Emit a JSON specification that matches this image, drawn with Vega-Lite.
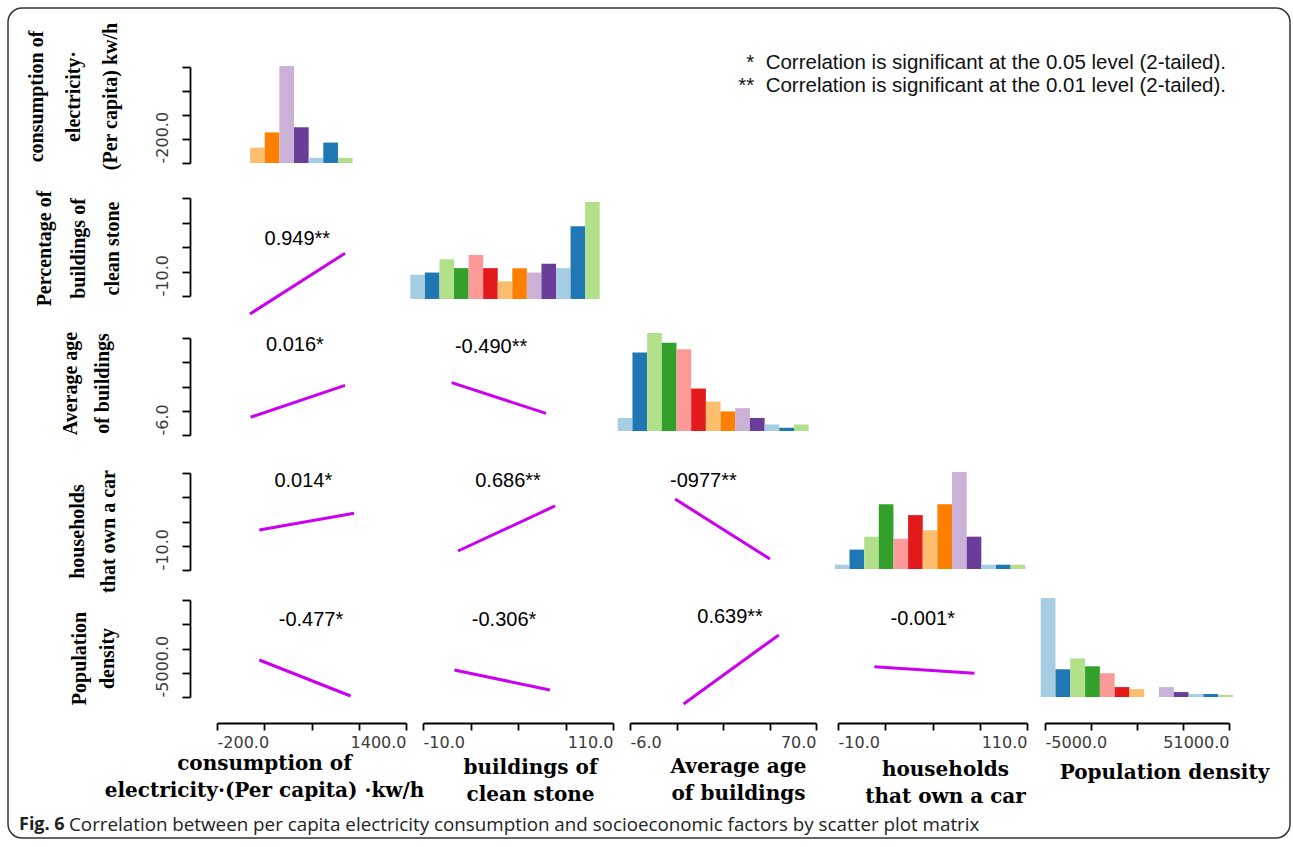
{
  "$schema": "https://vega.github.io/schema/vega-lite/v6.json",
  "width": 1282,
  "height": 830,
  "autosize": "none",
  "padding": {"left": 8, "top": 8, "right": 3, "bottom": 9},
  "view": {"stroke": "#333", "strokeWidth": 1.5, "cornerRadius": 14},
  "datasets": {
    "hist": [
      {"h":"elec","k":7,"a":80,"b":204,"n":3},
      {"h":"elec","k":8,"a":204,"b":328,"n":6},
      {"h":"elec","k":9,"a":328,"b":452,"n":19},
      {"h":"elec","k":10,"a":452,"b":576,"n":7},
      {"h":"elec","k":11,"a":576,"b":700,"n":1},
      {"h":"elec","k":12,"a":700,"b":824,"n":4},
      {"h":"elec","k":13,"a":824,"b":948,"n":1},
      {"h":"stone","k":1,"a":-18,"b":-8.8,"n":11},
      {"h":"stone","k":2,"a":-8.8,"b":0.4,"n":12},
      {"h":"stone","k":3,"a":0.4,"b":9.6,"n":18},
      {"h":"stone","k":4,"a":9.6,"b":18.8,"n":14},
      {"h":"stone","k":5,"a":18.8,"b":28,"n":20},
      {"h":"stone","k":6,"a":28,"b":37.2,"n":14},
      {"h":"stone","k":7,"a":37.2,"b":46.4,"n":8},
      {"h":"stone","k":8,"a":46.4,"b":55.6,"n":14},
      {"h":"stone","k":9,"a":55.6,"b":64.8,"n":12},
      {"h":"stone","k":10,"a":64.8,"b":74,"n":16},
      {"h":"stone","k":11,"a":74,"b":83.2,"n":14},
      {"h":"stone","k":12,"a":83.2,"b":92.4,"n":33},
      {"h":"stone","k":13,"a":92.4,"b":101.6,"n":44},
      {"h":"age","k":1,"a":-11,"b":-5,"n":4},
      {"h":"age","k":2,"a":-5,"b":1,"n":24},
      {"h":"age","k":3,"a":1,"b":7,"n":30},
      {"h":"age","k":4,"a":7,"b":13,"n":27},
      {"h":"age","k":5,"a":13,"b":19,"n":25},
      {"h":"age","k":6,"a":19,"b":25,"n":13},
      {"h":"age","k":7,"a":25,"b":31,"n":9},
      {"h":"age","k":8,"a":31,"b":37,"n":6},
      {"h":"age","k":9,"a":37,"b":43,"n":7},
      {"h":"age","k":10,"a":43,"b":49,"n":4},
      {"h":"age","k":11,"a":49,"b":55,"n":2},
      {"h":"age","k":12,"a":55,"b":61,"n":1},
      {"h":"age","k":13,"a":61,"b":67,"n":2},
      {"h":"car","k":1,"a":-12,"b":-2.7,"n":2},
      {"h":"car","k":2,"a":-2.7,"b":6.6,"n":9},
      {"h":"car","k":3,"a":6.6,"b":15.9,"n":15},
      {"h":"car","k":4,"a":15.9,"b":25.2,"n":30},
      {"h":"car","k":5,"a":25.2,"b":34.5,"n":14},
      {"h":"car","k":6,"a":34.5,"b":43.8,"n":25},
      {"h":"car","k":7,"a":43.8,"b":53.1,"n":18},
      {"h":"car","k":8,"a":53.1,"b":62.4,"n":30},
      {"h":"car","k":9,"a":62.4,"b":71.7,"n":45},
      {"h":"car","k":10,"a":71.7,"b":81,"n":15},
      {"h":"car","k":11,"a":81,"b":90.3,"n":2},
      {"h":"car","k":12,"a":90.3,"b":99.6,"n":2},
      {"h":"car","k":13,"a":99.6,"b":108.9,"n":2},
      {"h":"pop","k":1,"a":-6300,"b":-1800,"n":100},
      {"h":"pop","k":2,"a":-1800,"b":2700,"n":28},
      {"h":"pop","k":3,"a":2700,"b":7200,"n":39},
      {"h":"pop","k":4,"a":7200,"b":11700,"n":31},
      {"h":"pop","k":5,"a":11700,"b":16200,"n":24},
      {"h":"pop","k":6,"a":16200,"b":20700,"n":10},
      {"h":"pop","k":7,"a":20700,"b":25200,"n":8},
      {"h":"pop","k":8,"a":25200,"b":29700,"n":0},
      {"h":"pop","k":9,"a":29700,"b":34200,"n":10},
      {"h":"pop","k":10,"a":34200,"b":38700,"n":5},
      {"h":"pop","k":11,"a":38700,"b":43200,"n":3},
      {"h":"pop","k":12,"a":43200,"b":47700,"n":3},
      {"h":"pop","k":13,"a":47700,"b":52200,"n":2}
    ],
    "seg": [
      {"p":"r2c1","x":79,"y":-32},{"p":"r2c1","x":884,"y":42.3},
      {"p":"r3c1","x":85,"y":7.9},{"p":"r3c1","x":884,"y":32.9},
      {"p":"r3c2","x":8.1,"y":35},{"p":"r3c2","x":67.7,"y":11},
      {"p":"r4c1","x":158,"y":39.5},{"p":"r4c1","x":960,"y":60.1},
      {"p":"r4c2","x":12.1,"y":13.5},{"p":"r4c2","x":73.4,"y":69.2},
      {"p":"r4c3","x":12.4,"y":77.8},{"p":"r4c3","x":51.2,"y":3.6},
      {"p":"r5c1","x":158,"y":16362},{"p":"r5c1","x":931,"y":-4420},
      {"p":"r5c2","x":9.8,"y":10589},{"p":"r5c2","x":70.1,"y":-958},
      {"p":"r5c3","x":15.9,"y":-9039},{"p":"r5c3","x":54.8,"y":30795},
      {"p":"r5c4","x":13.1,"y":12494},{"p":"r5c4","x":76.6,"y":8684}
    ],
    "lab": [
      {"p":"r2c1","x":480,"y":59.4,"t":"0.949**"},
      {"p":"r3c1","x":460,"y":64.5,"t":"0.016*"},
      {"p":"r3c2","x":33,"y":63.2,"t":"-0.490**"},
      {"p":"r4c1","x":531,"y":100.5,"t":"0.014*"},
      {"p":"r4c2","x":43.7,"y":100,"t":"0.686**"},
      {"p":"r4c3","x":24,"y":100.1,"t":"-0977**"},
      {"p":"r5c1","x":596,"y":39454,"t":"-0.477*"},
      {"p":"r5c2","x":41.2,"y":39454,"t":"-0.306*"},
      {"p":"r5c3","x":34.9,"y":41186,"t":"0.639**"},
      {"p":"r5c4","x":43.8,"y":40031,"t":"-0.001*"}
    ],
    "notes": [
      {"o": "1", "t": "*\u00a0\u00a0Correlation is significant at the 0.05 level (2-tailed)."},
      {"o": "2", "t": "**\u00a0\u00a0Correlation is significant at the 0.01 level (2-tailed)."}
    ]
  },
  "resolve": {
    "scale": {"x": "independent", "y": "independent"},
    "axis": {"x": "independent", "y": "independent"}
  },
  "layer": [
    {
      "data": {"values": [{}]},
      "encoding": {
        "x": {"datum": 0, "type": "quantitative", "scale": {"domain": [0, 1]}, "axis": null},
        "y": {"datum": 0, "type": "quantitative", "scale": {"domain": [0, 1]}, "axis": null}
      },
      "layer": [
        {"mark": {"type": "text", "text": "Fig. 6", "font": "Open Sans", "fontWeight": "bold", "fontSize": 18, "align": "left", "baseline": "middle", "dx": 11, "dy": -13, "color": "#222"}},
        {"mark": {"type": "text", "text": "Correlation between per capita electricity consumption and socioeconomic factors by scatter plot matrix", "font": "Open Sans", "fontSize": 18.8, "align": "left", "baseline": "middle", "dx": 61, "dy": -13, "color": "#222"}}
      ]
    },
    {
      "data": {"name": "notes"},
      "mark": {"type": "text", "align": "right", "baseline": "middle", "font": "Liberation Sans", "fontSize": 20.5, "color": "#111"},
      "encoding": {
        "text": {"field": "t"},
        "x": {"datum": 1, "type": "quantitative", "scale": {"domain": [0, 1], "range": [0, 1218]}, "axis": null},
        "y": {"field": "o", "type": "ordinal", "scale": {"type": "point", "range": [55, 78], "padding": 0}, "axis": null}
      }
    },
    {
      "data": {"values": [{}]},
      "mark": {"type": "point", "opacity": 0},
      "encoding": {
        "y": {"datum": -200, "type": "quantitative", "scale": {"domain": [-200, 1400], "range": [155, 59], "nice": false, "zero": false},
          "axis": {"orient": "left", "offset": -182, "values": [-200, 200, 600, 1000, 1400], "labelExpr": "datum.value == -200 ? '-200.0' : ''", "title": ["consumption of", "electricity·", "(Per capita) kw/h"], "titleX": -144, "titleY": 88, "titleLineHeight": 37}}
      }
    },
    {
      "data": {"name": "hist"}, "transform": [{"filter": "datum.h == 'elec'"}], "mark": "bar",
      "encoding": {
        "x": {"field": "a", "type": "quantitative", "scale": {"domain": [-200, 1400], "range": [209, 398], "nice": false, "zero": false}, "axis": null},
        "x2": {"field": "b"},
        "y": {"field": "n", "type": "quantitative", "scale": {"domain": [0, 19], "range": [155, 58], "nice": false}, "axis": null},
        "y2": {"datum": 0},
        "color": {"field": "k", "type": "ordinal", "legend": null, "scale": {"domain": [1,2,3,4,5,6,7,8,9,10,11,12,13], "range": ["#a6cee3","#1f78b4","#b2df8a","#33a02c","#fb9a99","#e31a1c","#fdbf6f","#ff7f00","#cab2d6","#6a3d9a","#a6cee3","#1f78b4","#b2df8a"]}}
      }
    },
    {
      "data": {"name": "hist"}, "transform": [{"filter": "datum.h == 'stone'"}], "mark": "bar",
      "encoding": {
        "x": {"field": "a", "type": "quantitative", "scale": {"domain": [-10, 110], "range": [415, 605], "nice": false, "zero": false}, "axis": null},
        "x2": {"field": "b"},
        "y": {"field": "n", "type": "quantitative", "scale": {"domain": [0, 44], "range": [291, 194], "nice": false}, "axis": null},
        "y2": {"datum": 0},
        "color": {"field": "k", "type": "ordinal", "legend": null}
      }
    },
    {
      "data": {"name": "hist"}, "transform": [{"filter": "datum.h == 'age'"}], "mark": "bar",
      "encoding": {
        "x": {"field": "a", "type": "quantitative", "scale": {"domain": [-6, 70], "range": [622, 808], "nice": false, "zero": false}, "axis": null},
        "x2": {"field": "b"},
        "y": {"field": "n", "type": "quantitative", "scale": {"domain": [0, 30], "range": [423, 325], "nice": false}, "axis": null},
        "y2": {"datum": 0},
        "color": {"field": "k", "type": "ordinal", "legend": null}
      }
    },
    {
      "data": {"name": "hist"}, "transform": [{"filter": "datum.h == 'car'"}], "mark": "bar",
      "encoding": {
        "x": {"field": "a", "type": "quantitative", "scale": {"domain": [-10, 110], "range": [830, 1019], "nice": false, "zero": false}, "axis": null},
        "x2": {"field": "b"},
        "y": {"field": "n", "type": "quantitative", "scale": {"domain": [0, 45], "range": [561, 464], "nice": false}, "axis": null},
        "y2": {"datum": 0},
        "color": {"field": "k", "type": "ordinal", "legend": null}
      }
    },
    {
      "data": {"name": "hist"}, "transform": [{"filter": "datum.h == 'pop'"}], "mark": "bar",
      "encoding": {
        "x": {"field": "a", "type": "quantitative", "scale": {"domain": [-5000, 51000], "range": [1037, 1221], "nice": false, "zero": false},
          "axis": {"orient": "bottom", "offset": -115, "values": [-5000, 9000, 23000, 37000, 51000], "labelExpr": "datum.value == -5000 ? '-5000.0' : datum.value == 51000 ? '51000.0' : ''", "title": "Population density", "titleX": 1156, "titleY": 55}},
        "x2": {"field": "b"},
        "y": {"field": "n", "type": "quantitative", "scale": {"domain": [0, 100], "range": [689, 590], "nice": false}, "axis": null},
        "y2": {"datum": 0},
        "color": {"field": "k", "type": "ordinal", "legend": null}
      }
    },
    {
      "encoding": {
        "x": {"field": "x", "type": "quantitative", "scale": {"domain": [-200, 1400], "range": [209, 398], "nice": false, "zero": false}, "axis": null},
        "y": {"field": "y", "type": "quantitative", "scale": {"domain": [-10, 110], "range": [288, 190], "nice": false, "zero": false},
          "axis": {"orient": "left", "offset": -182, "values": [-10, 20, 50, 80, 110], "labelExpr": "datum.value == -10 ? '-10.0' : ''", "title": ["Percentage of", "buildings of", "clean stone"], "titleX": -136, "titleY": 240, "titleLineHeight": 34}}
      },
      "layer": [
        {"data": {"name": "seg"}, "transform": [{"filter": "datum.p == 'r2c1'"}], "mark": {"type": "line", "color": "#cc00f0", "strokeWidth": 3}},
        {"data": {"name": "lab"}, "transform": [{"filter": "datum.p == 'r2c1'"}], "mark": {"type": "text", "font": "Liberation Sans", "fontSize": 20, "color": "#000"}, "encoding": {"text": {"field": "t"}}}
      ]
    },
    {
      "encoding": {
        "x": {"field": "x", "type": "quantitative", "scale": {"domain": [-200, 1400], "range": [209, 398], "nice": false, "zero": false}, "axis": null},
        "y": {"field": "y", "type": "quantitative", "scale": {"domain": [-6, 70], "range": [427, 330], "nice": false, "zero": false},
          "axis": {"orient": "left", "offset": -182, "values": [-6, 13, 32, 51, 70], "labelExpr": "datum.value == -6 ? '-6.0' : ''", "title": ["Average age", "of buildings"], "titleX": -110, "titleY": 375, "titleLineHeight": 32}}
      },
      "layer": [
        {"data": {"name": "seg"}, "transform": [{"filter": "datum.p == 'r3c1'"}], "mark": {"type": "line", "color": "#cc00f0", "strokeWidth": 3}},
        {"data": {"name": "lab"}, "transform": [{"filter": "datum.p == 'r3c1'"}], "mark": {"type": "text", "font": "Liberation Sans", "fontSize": 20, "color": "#000"}, "encoding": {"text": {"field": "t"}}}
      ]
    },
    {
      "encoding": {
        "x": {"field": "x", "type": "quantitative", "scale": {"domain": [-10, 110], "range": [415, 605], "nice": false, "zero": false}, "axis": null},
        "y": {"field": "y", "type": "quantitative", "scale": {"domain": [-6, 70], "range": [427, 330], "nice": false, "zero": false}, "axis": null}
      },
      "layer": [
        {"data": {"name": "seg"}, "transform": [{"filter": "datum.p == 'r3c2'"}], "mark": {"type": "line", "color": "#cc00f0", "strokeWidth": 3}},
        {"data": {"name": "lab"}, "transform": [{"filter": "datum.p == 'r3c2'"}], "mark": {"type": "text", "font": "Liberation Sans", "fontSize": 20, "color": "#000"}, "encoding": {"text": {"field": "t"}}}
      ]
    },
    {
      "encoding": {
        "x": {"field": "x", "type": "quantitative", "scale": {"domain": [-200, 1400], "range": [209, 398], "nice": false, "zero": false}, "axis": null},
        "y": {"field": "y", "type": "quantitative", "scale": {"domain": [-10, 110], "range": [562, 465], "nice": false, "zero": false},
          "axis": {"orient": "left", "offset": -182, "values": [-10, 20, 50, 80, 110], "labelExpr": "datum.value == -10 ? '-10.0' : ''", "title": ["households", "that own a car"], "titleX": -103, "titleY": 523, "titleLineHeight": 31}}
      },
      "layer": [
        {"data": {"name": "seg"}, "transform": [{"filter": "datum.p == 'r4c1'"}], "mark": {"type": "line", "color": "#cc00f0", "strokeWidth": 3}},
        {"data": {"name": "lab"}, "transform": [{"filter": "datum.p == 'r4c1'"}], "mark": {"type": "text", "font": "Liberation Sans", "fontSize": 20, "color": "#000"}, "encoding": {"text": {"field": "t"}}}
      ]
    },
    {
      "encoding": {
        "x": {"field": "x", "type": "quantitative", "scale": {"domain": [-10, 110], "range": [415, 605], "nice": false, "zero": false}, "axis": null},
        "y": {"field": "y", "type": "quantitative", "scale": {"domain": [-10, 110], "range": [562, 465], "nice": false, "zero": false}, "axis": null}
      },
      "layer": [
        {"data": {"name": "seg"}, "transform": [{"filter": "datum.p == 'r4c2'"}], "mark": {"type": "line", "color": "#cc00f0", "strokeWidth": 3}},
        {"data": {"name": "lab"}, "transform": [{"filter": "datum.p == 'r4c2'"}], "mark": {"type": "text", "font": "Liberation Sans", "fontSize": 20, "color": "#000"}, "encoding": {"text": {"field": "t"}}}
      ]
    },
    {
      "encoding": {
        "x": {"field": "x", "type": "quantitative", "scale": {"domain": [-6, 70], "range": [622, 808], "nice": false, "zero": false}, "axis": null},
        "y": {"field": "y", "type": "quantitative", "scale": {"domain": [-10, 110], "range": [562, 465], "nice": false, "zero": false}, "axis": null}
      },
      "layer": [
        {"data": {"name": "seg"}, "transform": [{"filter": "datum.p == 'r4c3'"}], "mark": {"type": "line", "color": "#cc00f0", "strokeWidth": 3}},
        {"data": {"name": "lab"}, "transform": [{"filter": "datum.p == 'r4c3'"}], "mark": {"type": "text", "font": "Liberation Sans", "fontSize": 20, "color": "#000"}, "encoding": {"text": {"field": "t"}}}
      ]
    },
    {
      "encoding": {
        "x": {"field": "x", "type": "quantitative", "scale": {"domain": [-200, 1400], "range": [209, 398], "nice": false, "zero": false},
          "axis": {"orient": "bottom", "offset": -115, "values": [-200, 200, 600, 1000, 1400], "labelExpr": "datum.value == -200 ? '-200.0' : datum.value == 1400 ? '1400.0' : ''", "title": ["consumption of", "electricity·(Per capita) ·kw/h"], "titleX": 256, "titleY": 46}},
        "y": {"field": "y", "type": "quantitative", "scale": {"domain": [-5000, 51000], "range": [689, 592], "nice": false, "zero": false},
          "axis": {"orient": "left", "offset": -182, "values": [-5000, 9000, 23000, 37000, 51000], "labelExpr": "datum.value == -5000 ? '-5000.0' : ''", "title": ["Population", "density"], "titleX": -101, "titleY": 650, "titleLineHeight": 28}}
      },
      "layer": [
        {"data": {"name": "seg"}, "transform": [{"filter": "datum.p == 'r5c1'"}], "mark": {"type": "line", "color": "#cc00f0", "strokeWidth": 3}},
        {"data": {"name": "lab"}, "transform": [{"filter": "datum.p == 'r5c1'"}], "mark": {"type": "text", "font": "Liberation Sans", "fontSize": 20, "color": "#000"}, "encoding": {"text": {"field": "t"}}}
      ]
    },
    {
      "encoding": {
        "x": {"field": "x", "type": "quantitative", "scale": {"domain": [-10, 110], "range": [415, 605], "nice": false, "zero": false},
          "axis": {"orient": "bottom", "offset": -115, "values": [-10, 20, 50, 80, 110], "labelExpr": "datum.value == -10 ? '-10.0' : datum.value == 110 ? '110.0' : ''", "title": ["buildings of", "clean stone"], "titleX": 522, "titleY": 50}},
        "y": {"field": "y", "type": "quantitative", "scale": {"domain": [-5000, 51000], "range": [689, 592], "nice": false, "zero": false}, "axis": null}
      },
      "layer": [
        {"data": {"name": "seg"}, "transform": [{"filter": "datum.p == 'r5c2'"}], "mark": {"type": "line", "color": "#cc00f0", "strokeWidth": 3}},
        {"data": {"name": "lab"}, "transform": [{"filter": "datum.p == 'r5c2'"}], "mark": {"type": "text", "font": "Liberation Sans", "fontSize": 20, "color": "#000"}, "encoding": {"text": {"field": "t"}}}
      ]
    },
    {
      "encoding": {
        "x": {"field": "x", "type": "quantitative", "scale": {"domain": [-6, 70], "range": [622, 808], "nice": false, "zero": false},
          "axis": {"orient": "bottom", "offset": -115, "values": [-6, 13, 32, 51, 70], "labelExpr": "datum.value == -6 ? '-6.0' : datum.value == 70 ? '70.0' : ''", "title": ["Average age", "of buildings"], "titleX": 730, "titleY": 49}},
        "y": {"field": "y", "type": "quantitative", "scale": {"domain": [-5000, 51000], "range": [689, 592], "nice": false, "zero": false}, "axis": null}
      },
      "layer": [
        {"data": {"name": "seg"}, "transform": [{"filter": "datum.p == 'r5c3'"}], "mark": {"type": "line", "color": "#cc00f0", "strokeWidth": 3}},
        {"data": {"name": "lab"}, "transform": [{"filter": "datum.p == 'r5c3'"}], "mark": {"type": "text", "font": "Liberation Sans", "fontSize": 20, "color": "#000"}, "encoding": {"text": {"field": "t"}}}
      ]
    },
    {
      "encoding": {
        "x": {"field": "x", "type": "quantitative", "scale": {"domain": [-10, 110], "range": [830, 1019], "nice": false, "zero": false},
          "axis": {"orient": "bottom", "offset": -115, "values": [-10, 20, 50, 80, 110], "labelExpr": "datum.value == -10 ? '-10.0' : datum.value == 110 ? '110.0' : ''", "title": ["households", "that own a car"], "titleX": 937, "titleY": 52}},
        "y": {"field": "y", "type": "quantitative", "scale": {"domain": [-5000, 51000], "range": [689, 592], "nice": false, "zero": false}, "axis": null}
      },
      "layer": [
        {"data": {"name": "seg"}, "transform": [{"filter": "datum.p == 'r5c4'"}], "mark": {"type": "line", "color": "#cc00f0", "strokeWidth": 3}},
        {"data": {"name": "lab"}, "transform": [{"filter": "datum.p == 'r5c4'"}], "mark": {"type": "text", "font": "Liberation Sans", "fontSize": 20, "color": "#000"}, "encoding": {"text": {"field": "t"}}}
      ]
    }
  ],
  "config": {
    "font": "Liberation Sans",
    "axis": {"grid": false, "domainColor": "#000", "tickColor": "#000", "domainWidth": 1.8, "tickWidth": 1.8, "labelFont": "DejaVu Sans", "labelFontSize": 16, "labelColor": "#3a3a3a", "labelOverlap": false, "titleColor": "#000", "titleFontWeight": "bold"},
    "axisY": {"tickSize": 8, "labelAngle": 270, "labelAlign": "left", "labelBaseline": "middle", "labelPadding": 20, "titleFont": "Liberation Serif", "titleFontSize": 20, "titleAngle": 270, "titleBaseline": "bottom", "titleAlign": "center"},
    "axisX": {"tickSize": 7, "labelPadding": 4, "labelFlush": true, "labelBaseline": "top", "titleFont": "DejaVu Serif", "titleFontSize": 20, "titleBaseline": "alphabetic", "titleAlign": "center", "titleLineHeight": 27}
  }
}
